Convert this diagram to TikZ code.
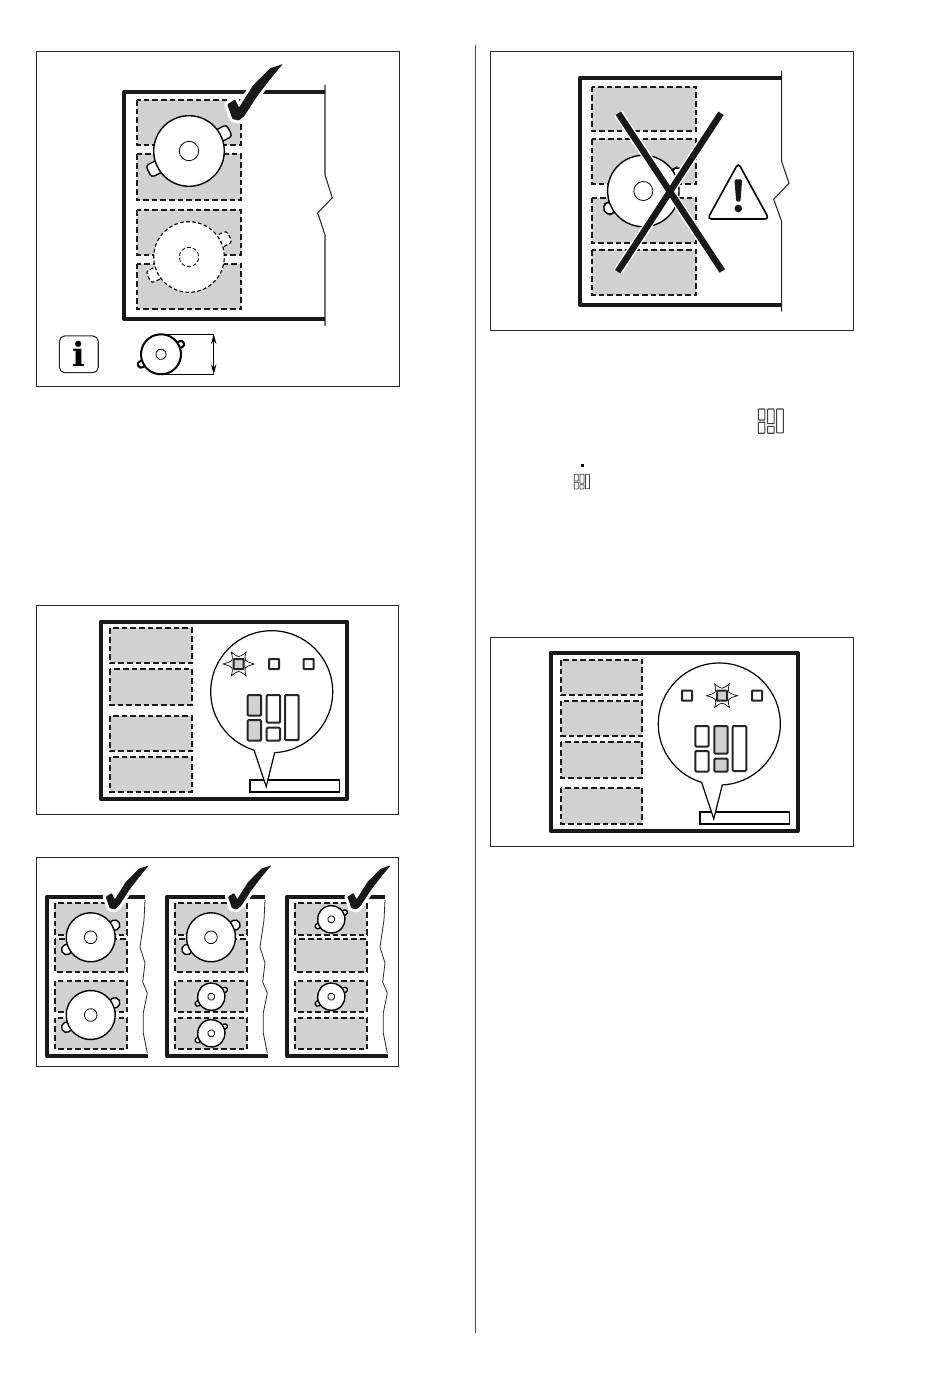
\documentclass[tikz,border=0pt]{standalone}
\usepackage{fontspec}
\usetikzlibrary{arrows.meta}
\newfontfamily\infofont{DejaVu Serif}
\definecolor{zonegray}{gray}{0.82}
\tikzset{
  panelframe/.style={draw=black!85,line width=0.8pt},
  hobedge/.style={line width=3pt,black!90,line join=round},
  hobcut/.style={line width=0.8pt,black!85},
  zone/.style={fill=zonegray,draw=black!90,line width=1.5pt,dash pattern=on 4.2pt off 2.3pt},
  pot/.style={fill=white,draw=black,line width=1.05pt},
  dashpot/.style={fill=white,draw=black,line width=0.85pt,dash pattern=on 2.8pt off 1.7pt},
  keybox/.style={draw=black!85,line width=1.5pt,rounded corners=0.8pt},
}
% pot: x, y, radius, inner radius, handle length, handle half width, style
\newcommand{\cookpot}[7]{
  \begin{scope}[shift={(#1,#2)},rotate=27]
    \draw[rounded corners=#6*0.7pt,#7] (#3-3,-#6) rectangle (#3+#5,#6);
    \draw[rounded corners=#6*0.7pt,#7] (-#3+3,-#6) rectangle (-#3-#5,#6);
    \draw[#7] (0,0) circle (#3);
    \draw[#7,line width=0.6pt] (0,0) circle (#4);
  \end{scope}
}
% tick mark: x, y of its lowest point, scale
\newcommand{\tickmark}[3]{
  \begin{scope}[shift={(#1,#2)},scale=#3]
    \path[draw=white,line width=4.5pt,line join=round,fill=white] (-11,-15.7) -- (-3.3,-20.5) -- (0.7,-12.5) -- (15,-35) -- (31.7,-51.7) -- (44.5,-56) -- (32,-41) -- (19,-24) -- (6,-4) -- (0.5,0.5) -- (-6,-1) -- cycle;
    \fill[black!90,rounded corners=0.6pt] (-11,-15.7) -- (-3.3,-20.5) -- (0.7,-12.5) -- (15,-35) -- (31.7,-51.7) -- (44.5,-56) -- (32,-41) -- (19,-24) -- (6,-4) -- (0.5,0.5) -- (-6,-1) -- cycle;
  \end{scope}
}
% keys: x, y, x scale, y scale, fill left column, fill middle column, style
\newcommand{\keypad}[7]{
  \begin{scope}[shift={(#1,#2)},xscale=#3,yscale=#4]
    \draw[keybox,fill=#5,#7] (0,0) rectangle (13.3,20.7);
    \draw[keybox,fill=#5,#7] (0,25) rectangle (13.3,45.7);
    \draw[keybox,fill=#6,#7] (19,0) rectangle (32.3,27.7);
    \draw[keybox,fill=#6,#7] (19,32.7) rectangle (32.3,45.7);
    \draw[keybox,fill=white,#7] (37.3,0) rectangle (51,45);
  \end{scope}
}
% callout circle with its tail
\newcommand{\callout}[2]{
  \begin{scope}[shift={(#1,#2)}]
    \draw[fill=white,line width=0.9pt] (0,0) circle (61);
    \fill[white] (-18,57) -- (-5.5,95) -- (3,59) -- cycle;
    \draw[line width=0.9pt] (-17.7,58.3) -- (-5.5,95) -- (3,60.7);
  \end{scope}
}
% flashing lamp
\newcommand{\flashlamp}[2]{
  \begin{scope}[shift={(#1,#2)}]
    \draw[line width=0.5pt] (0:15.5) .. controls (30:6) .. (58:14) .. controls (90:6) .. (122:14) .. controls (150:6) .. (180:15.5) .. controls (210:6) .. (238:14) .. controls (270:6) .. (302:14) .. controls (330:6) .. cycle;
    \draw[keybox,fill=zonegray,rounded corners=0.4pt] (-5,-5) rectangle (5,5);
  \end{scope}
}
\begin{document}
\begin{tikzpicture}[x=0.75pt,y=-0.75pt]
  \useasboundingbox (0,0) rectangle (950,1383);
  \draw[line width=0.6pt,black!70] (475.5,45) -- (475.5,1333);  % column rule

  % Panel with two pots and the tick
  \draw[panelframe] (36.7,51.5) rectangle (399.5,386.5);
  \draw[hobcut] (325,85) -- (325,175) -- (332.3,197.7) -- (317.7,213) -- (325,235) -- (325,326);
  \draw[hobedge] (325,92) -- (124,92) -- (124,319) -- (325,319);
  \foreach \ya/\yb in {100/145,154.3/200,210/255,263.7/309}
    \draw[zone] (136.7,\ya) rectangle (241,\yb);
  \cookpot{189}{151}{35.3}{9.7}{10}{6.5}{pot,rounded corners=2.4pt}
  \cookpot{189}{257}{35.3}{9.7}{10}{6.5}{dashpot,rounded corners=2.4pt}
  \tickmark{238.3}{120}{1}
  \node[panelframe,rounded corners=4pt,minimum width=29.2pt,minimum height=27.5pt,inner sep=0pt] (infoicon) at (78.8,354.3) {\infofont\bfseries\fontsize{25}{25}\selectfont i};
  \cookpot{161}{354.3}{20}{5.3}{5.5}{3.2}{pot,line width=1.5pt}
  \coordinate (dimtop) at (213.7,334);
  \coordinate (dimbot) at (213.7,374.3);
  \draw[line width=0.7pt] (161,334) -- (dimtop);
  \draw[line width=0.7pt] (161,374.3) -- (dimbot);
  \draw[{Stealth[length=7.5pt,width=4pt]}-{Stealth[length=7.5pt,width=4pt]},line width=0.7pt] (dimtop) -- (dimbot);

  % Panel with the pot that is crossed out
  \draw[panelframe] (490.3,51.5) rectangle (853.7,330.3);
  \draw[hobcut] (781.7,71) -- (781.7,161.7) -- (789,183.3) -- (773.7,199.3) -- (781.7,221.7) -- (781.7,311.7);
  \draw[hobedge] (781.7,77.7) -- (580,77.7) -- (580,305) -- (781.7,305);
  \foreach \ya/\yb in {86.7/131,139/184,197.7/243,250/295}
    \draw[zone] (591.7,\ya) rectangle (696.3,\yb);
  \cookpot{643.3}{191}{35.7}{9.5}{8}{6}{pot}
  \draw[white,line width=7pt] (618.3,113.3) -- (722.3,271);
  \draw[white,line width=7pt] (721,113.3) -- (617.7,271.7);
  \draw[black!90,line width=4.8pt] (618.3,113.3) -- (722.3,271);
  \draw[black!90,line width=4.8pt] (721,113.3) -- (617.7,271.7);
  \draw[line width=1.2pt,rounded corners=3pt] (738.3,163) -- (707.5,219) -- (769,219) -- cycle;
  \fill[black!90,rounded corners=1pt] (734.4,179.5) -- (742.2,179.5) -- (740.4,201.7) -- (736.2,201.7) -- cycle;
  \fill[black!90] (738.3,208.5) circle (3.8);
  \keypad{758.3}{409}{0.49}{0.53}{white}{white}{line width=0.8pt,draw=black!75,rounded corners=0.4pt}  % small keys in the text
  \fill[black] (580.8,464.2) rectangle (583.8,467.2);
  \keypad{574.3}{474.3}{0.3}{0.32}{white}{white}{line width=0.55pt,draw=black!75,rounded corners=0.2pt}

  % Panel with the lower zone pair selected
  \draw[panelframe] (36.7,605.3) rectangle (398.7,814.3);
  \draw[hobedge] (100.7,621.7) rectangle (347.3,799);
  \foreach \ya/\yb in {628.3/663.3,669/704.7,716/751,756.7/791.7}
    \draw[zone] (110,\ya) rectangle (192,\yb);
  \draw[line width=1.2pt,fill=white] (249.7,780) rectangle (339.3,792);
  \callout{271.7}{691.7}
  \flashlamp{238.7}{664}
  \draw[keybox,rounded corners=0.4pt] (269,659) rectangle (279,669);
  \draw[keybox,rounded corners=0.4pt] (303.7,659) rectangle (313.7,669);
  \keypad{247.7}{695}{1}{1}{zonegray}{white}{}

  % Panel with the middle zones selected
  \draw[panelframe] (490.3,637.3) rectangle (853.7,846.7);
  \draw[hobedge] (550.7,652.7) rectangle (797.7,831);
  \foreach \ya/\yb in {660/695,700.7/736,741.7/777.7,787.7/823.7}
    \draw[zone] (560.7,\ya) rectangle (642.3,\yb);
  \draw[line width=1.2pt,fill=white] (699.7,812) rectangle (789.3,824);
  \callout{719.3}{724}
  \flashlamp{722}{695.7}
  \draw[keybox,rounded corners=0.4pt] (682,690.7) rectangle (692,700.7);
  \draw[keybox,rounded corners=0.4pt] (752,690.7) rectangle (762,700.7);
  \keypad{695.3}{726}{1}{1}{white}{zonegray}{}

  % Panel with the three allowed layouts
  \draw[panelframe] (36.7,857.3) rectangle (398.7,1066.7);
  \foreach \dx in {0,120,240} {
    \begin{scope}[xshift=\dx*0.75pt]
      \draw[hobcut,line width=0.6pt] (145,900) -- (144,920) -- (140,947) -- (145,963) -- (142.7,982) -- (147.3,993) -- (143.3,1013) -- (143.3,1033) -- (147.3,1053);
      \draw[hobedge] (145,896.7) -- (46.7,896.7) -- (46.7,1055.7) -- (148.3,1055.7);
      \foreach \ya/\yb in {903.3/935,939.3/971.7,980.7/1012.3,1017.7/1049.3}
        \draw[zone] (55,\ya) rectangle (127.3,\yb);
    \end{scope}
  }
  \cookpot{90.7}{937.3}{24.5}{6.3}{7.5}{5}{pot}
  \cookpot{90.7}{1015}{24.5}{6.3}{7.5}{5}{pot}
  \cookpot{211}{937.3}{24.5}{6.3}{7.5}{5}{pot}
  \cookpot{211.3}{996.7}{13.7}{3.5}{4}{2.5}{pot}
  \cookpot{211.3}{1033.3}{13.7}{3.5}{4}{2.5}{pot}
  \cookpot{331.3}{919.3}{13.7}{3.5}{4}{2.5}{pot}
  \cookpot{331.3}{996.7}{13.7}{3.5}{4}{2.5}{pot}
  \tickmark{114.3}{909}{0.78}
  \tickmark{236.6}{909}{0.78}
  \tickmark{356}{909}{0.78}
\end{tikzpicture}
\end{document}
